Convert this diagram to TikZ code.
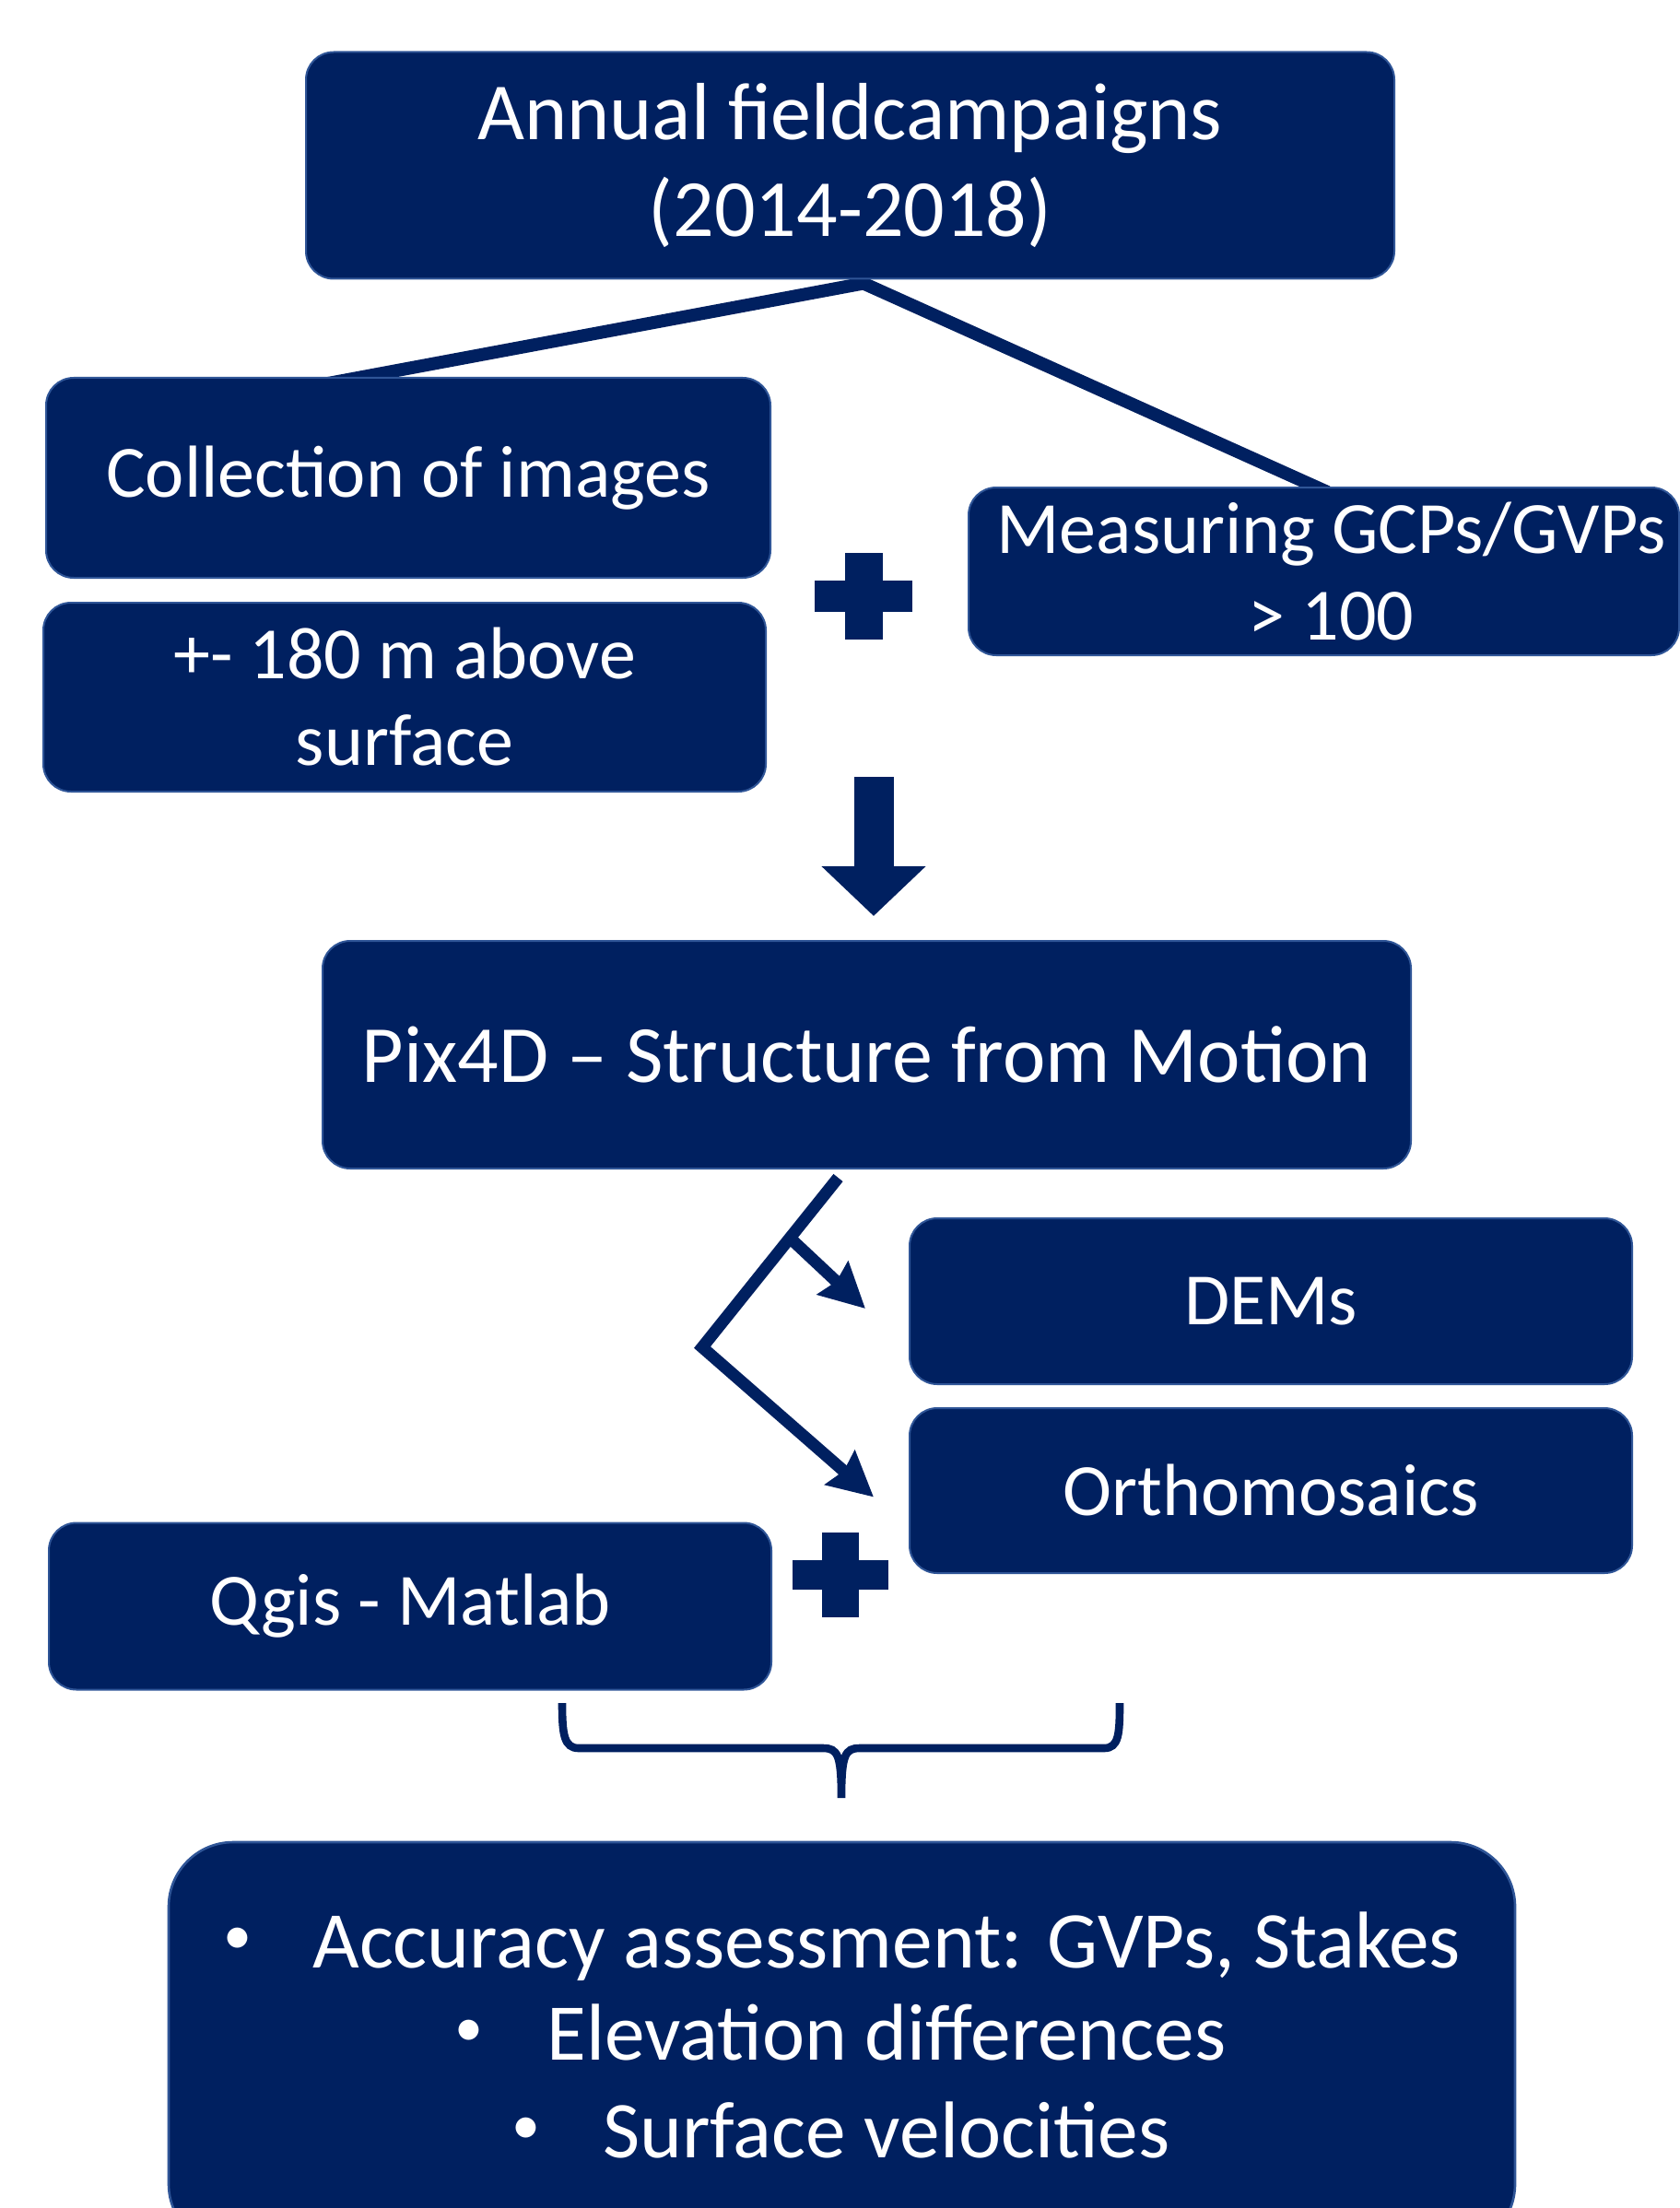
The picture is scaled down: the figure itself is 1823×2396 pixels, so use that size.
\documentclass[tikz,border=0pt]{standalone}
\usepackage{fontspec}
\setmainfont{Carlito}
\usetikzlibrary{arrows.meta,calc}
\definecolor{navy}{HTML}{002060}
\definecolor{edge}{HTML}{2F5597}
\pgfdeclarelayer{bg}
\pgfsetlayers{bg,main}
\begin{document}
\begin{tikzpicture}[x=0.5pt,y=-0.5pt,
 box/.style={fill=navy,draw=edge,line width=1pt,rounded corners=15pt,text=white,align=center,
   font=\fontsize{40}{47}\selectfont,inner sep=0pt},
 bigtext/.style={font=\fontsize{44}{52.5}\selectfont},
 btxt/.style={text=white,inner sep=0pt,font=\fontsize{43.7}{52}\selectfont},
 bul/.style={text=white,inner sep=0pt,font=\fontsize{31}{36}\selectfont,anchor=base},
 conn/.style={draw=navy,line width=7pt},
 splitline/.style={draw=navy,line width=6.5pt,line join=miter,-{Stealth[length=24pt,width=24pt,inset=2.5pt]}},
 plusbar/.style={fill=navy},
 bracestyle/.style={draw=navy,line width=4.3pt}]
\useasboundingbox (0,0) rectangle (1823,2396);
\clip (0,0) rectangle (1823,2396);

% boxes
\node[box,bigtext,minimum width=590.5pt,minimum height=123pt] (ann) at (922.5,179.5) {Annual fieldcampaigns\\(2014-2018)};
\node[box,minimum width=393pt,minimum height=108.5pt] (coll) at (443,518.5) {Collection of images};
\node[box,minimum width=392pt,minimum height=102.5pt] (alt) at (439,756.5) {+- 180 m above\\surface};
\node[box,minimum width=385.5pt,minimum height=91pt] (meas) at (1436.5,620) {\hspace*{8pt}Measuring GCPs/GVPs\\\hspace*{8pt}> 100};
\node[box,bigtext,minimum width=590.5pt,minimum height=123.5pt] (pix) at (940.5,1144.5) {Pix4D – Structure from Motion};
\node[box,minimum width=392pt,minimum height=90pt] (dems) at (1379,1412) {DEMs};
\node[box,minimum width=392pt,minimum height=89.5pt] (ortho) at (1379,1617.5) {Orthomosaics};
\node[box,minimum width=392pt,minimum height=90.5pt] (qgis) at (445,1743) {Qgis - Matlab};
\node[box,line width=1.3pt,rounded corners=35pt,minimum width=730.5pt,minimum height=220.5pt] (res) at (913.5,2219.5) {};

% bottom bullet lines
\node[bul] (b1) at (258,2120) {•};
\node[btxt,anchor=base west] (l1) at (339,2135) {Accuracy assessment: GVPs, Stakes};
\node[bul] (b2) at (509,2220) {•};
\node[btxt,anchor=base west] (l2) at (593,2235) {Elevation differences};
\node[bul] (b3) at (571,2326) {•};
\node[btxt,anchor=base west] (l3) at (654,2341) {Surface velocities};

% top connectors (behind the boxes)
\begin{pgfonlayer}{bg}
\coordinate (apex) at ($(ann.south)+(14.5,4)$);
\draw[conn] ($(coll.north west)+(307,7)$) -- (apex) -- ($(meas.north)+(4,6)$);
\end{pgfonlayer}

% plus signs
\coordinate (p1) at (937,647);
\fill[plusbar] ($(p1)+(-20.5,-47)$) rectangle ($(p1)+(20.5,47)$);
\fill[plusbar] ($(p1)+(-53,-17)$) rectangle ($(p1)+(53,17)$);
\coordinate (p2) at (912,1709);
\fill[plusbar] ($(p2)+(-20,-46)$) rectangle ($(p2)+(20,46)$);
\fill[plusbar] ($(p2)+(-52,-16)$) rectangle ($(p2)+(52,16)$);

% down block arrow
\coordinate (dtop) at (948,843);
\draw[navy,line width=21.5pt,-{Triangle[length=27pt,width=55pt]}] (dtop) -- ($(pix.north)+(7.5,-26)$);

% split arrows
\coordinate (s0) at ($(pix.south)+(-31,9)$);
\coordinate (elb) at (762,1462);
\coordinate (brs) at (860,1346);
\draw[splitline] (s0) -- (elb) -- ($(ortho.west)+(-38,7)$);
\draw[splitline] (brs) -- ($(dems.west)+(-47,8)$);

% brace
\coordinate (btip) at (913,1951);
\draw[bracestyle] (610,1848) .. controls (610,1882) and (612,1897) .. (628,1897) -- (893,1897)
  .. controls (909,1897) and (913,1904) .. (btip)
  .. controls (913,1904) and (917,1897) .. (933,1897) -- (1198,1897)
  .. controls (1214,1897) and (1215,1882) .. (1215,1848);
\end{tikzpicture}
\end{document}
